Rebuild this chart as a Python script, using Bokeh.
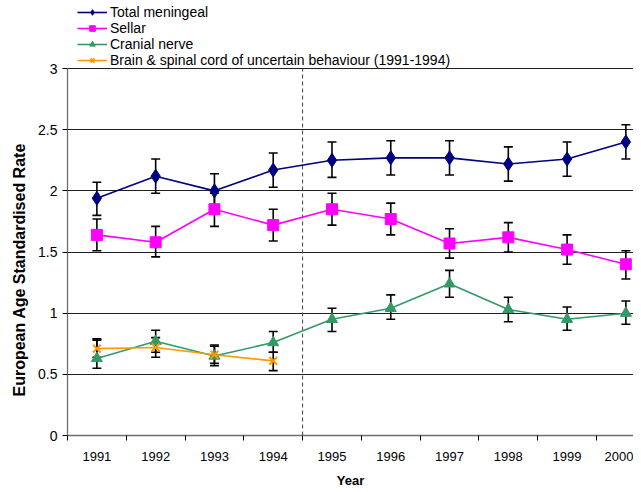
from bokeh.plotting import figure
from bokeh.models import (ColumnDataSource, Whisker, TeeHead, Legend, LegendItem,
                          FixedTicker, Range1d, Title)
from bokeh.embed import file_html
from bokeh.resources import INLINE

years = [1991, 1992, 1993, 1994, 1995, 1996, 1997, 1998, 1999, 2000]
total = [1.94, 2.12, 2.00, 2.17, 2.25, 2.27, 2.27, 2.22, 2.26, 2.40]
total_lo = [1.80, 1.98, 1.87, 2.03, 2.11, 2.13, 2.13, 2.08, 2.12, 2.26]
total_hi = [2.07, 2.26, 2.14, 2.31, 2.40, 2.41, 2.41, 2.36, 2.40, 2.54]
sellar = [1.64, 1.58, 1.85, 1.72, 1.85, 1.77, 1.57, 1.62, 1.52, 1.40]
sellar_lo = [1.51, 1.46, 1.71, 1.59, 1.72, 1.64, 1.45, 1.50, 1.40, 1.28]
sellar_hi = [1.77, 1.71, 1.98, 1.85, 1.98, 1.90, 1.69, 1.74, 1.64, 1.51]
cranial = [0.63, 0.77, 0.65, 0.76, 0.95, 1.04, 1.24, 1.03, 0.95, 1.00]
cranial_lo = [0.55, 0.68, 0.57, 0.68, 0.85, 0.95, 1.13, 0.93, 0.86, 0.91]
cranial_hi = [0.79, 0.86, 0.74, 0.85, 1.04, 1.15, 1.35, 1.13, 1.05, 1.10]
brain_years = [1991, 1992, 1993, 1994]
brain = [0.71, 0.72, 0.66, 0.61]
brain_lo = [0.64, 0.64, 0.59, 0.53]
brain_hi = [0.78, 0.80, 0.73, 0.68]
y_ticks = [0, 0.5, 1, 1.5, 2, 2.5, 3]
y_tick_labels = ["0", "0.5", "1", "1.5", "2", "2.5", "3"]
period_break = 1994.5

FONT = "Liberation Sans"
Y_MIN, Y_MAX = y_ticks[0], y_ticks[-1]

# the frame extends above the value axis to leave room for the legend
p = figure(width=633, height=490, output_backend="svg", toolbar_location=None,
           x_range=Range1d(1990.5, 2000.13), y_range=Range1d(Y_MIN, 3.54),
           min_border_left=67, min_border_top=2, min_border_bottom=54, min_border_right=0)
p.outline_line_color = None
p.background_fill_color = "white"

# x axis
p.xaxis.ticker = FixedTicker(ticks=years, minor_ticks=[y - 0.5 for y in years] + [years[-1] + 0.5])
p.xaxis.major_tick_out = 0
p.xaxis.major_tick_in = 0
p.xaxis.minor_tick_out = 5
p.xaxis.minor_tick_in = 0
p.xaxis.minor_tick_line_color = "#000000"
p.xaxis.major_label_standoff = 11
p.xaxis.major_label_text_font_size = "13px"
p.xaxis.axis_label = "Year"
p.xaxis.axis_label_standoff = 9
p.xaxis.axis_label_text_font_size = "13px"
# y axis
p.yaxis.ticker = FixedTicker(ticks=y_ticks, minor_ticks=[])
p.yaxis.bounds = (Y_MIN, Y_MAX)
p.yaxis.major_label_overrides = {t: s for t, s in zip(y_ticks, y_tick_labels)}
p.yaxis.major_tick_out = 5
p.yaxis.major_tick_in = 0
p.yaxis.minor_tick_line_color = None
p.yaxis.major_label_standoff = 5
p.yaxis.major_label_text_font_size = "14px"
for ax in (p.xaxis, p.yaxis):
    ax.axis_line_color = "#6e6e6e"
    ax.axis_line_width = 1.3
    ax.major_tick_line_color = "#000000"
    ax.major_label_text_font = FONT
    ax.major_label_text_color = "#000000"
    ax.axis_label_text_font = FONT
    ax.axis_label_text_font_style = "bold"
    ax.axis_label_text_color = "#000000"

p.add_layout(Title(text="European Age Standardised Rate", align="left", offset=39,
                   standoff=16, text_font=FONT, text_font_style="bold",
                   text_font_size="16px", text_color="#000000"), "left")

p.xgrid.grid_line_color = None
p.ygrid.ticker = FixedTicker(ticks=y_ticks[1:])
p.ygrid.grid_line_color = "#202020"
p.ygrid.grid_line_width = 1

# dashed divider between the two periods
p.segment(x0=[period_break], y0=[Y_MIN], x1=[period_break], y1=[Y_MAX],
          line_color="#404040", line_dash="4 3", line_width=1)

series = [
    ("Total meningeal", years, total, total_lo, total_hi, "#000080", "diamond", 14),
    ("Sellar", years, sellar, sellar_lo, sellar_hi, "#FF00FF", "square", 11),
    ("Cranial nerve", years, cranial, cranial_lo, cranial_hi, "#339966", "triangle", 11),
    ("Brain & spinal cord of uncertain behaviour (1991-1994)", brain_years, brain, brain_lo,
     brain_hi, "#FF9900", "x", 11),
]

items = []
for name, xs, ys, lo, hi, color, marker, size in series:
    src = ColumnDataSource(dict(x=xs, y=ys, lo=lo, hi=hi))
    r_line = p.line("x", "y", source=src, line_color=color, line_width=1.6)
    p.add_layout(Whisker(source=src, base="x", lower="lo", upper="hi",
                         line_color="#000000", line_width=1.6,
                         upper_head=TeeHead(size=9, line_color="#000000", line_width=1.6),
                         lower_head=TeeHead(size=9, line_color="#000000", line_width=1.6)))
    if marker == "x":
        r_mark = p.scatter("x", "y", source=src, marker=marker, size=size,
                           line_color=color, line_width=2)
    else:
        r_mark = p.scatter("x", "y", source=src, marker=marker, size=size,
                           fill_color=color, line_color=color)
    items.append(LegendItem(label=name, renderers=[r_line, r_mark]))

legend = Legend(items=items, location=(10, 367), orientation="vertical",
                label_text_font=FONT, label_text_font_size="14px", label_text_color="#000000",
                label_text_line_height=1.0,
                glyph_width=30, glyph_height=14, label_height=14, label_standoff=3,
                spacing=0, padding=0, margin=0, border_line_alpha=0,
                background_fill_alpha=0)
p.add_layout(legend, "center")

open("out.html", "w").write(file_html(p, INLINE))
